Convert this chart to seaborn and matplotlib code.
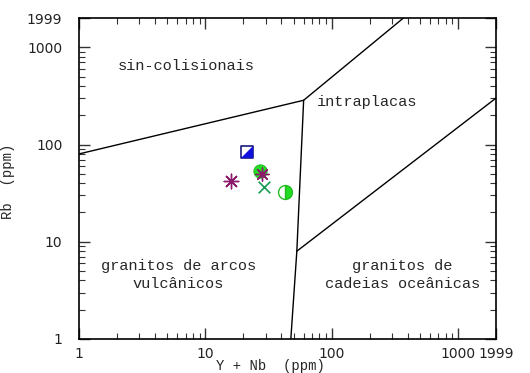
import matplotlib
matplotlib.use('Agg')
import matplotlib.pyplot as plt
import seaborn as sns
import pandas as pd
from matplotlib.ticker import LogLocator, NullFormatter, FixedLocator, FixedFormatter

# amostras (Y+Nb, Rb)
amostras = ['A1', 'A2', 'A3', 'A4', 'A5', 'A6']
y_nb = [21.4, 27.0, 28.0, 16.0, 29.2, 42.8]
rb = [84, 54, 50, 42, 36.5, 32.5]

# limites do diagrama
lim_a_x = [1, 60, 370]
lim_a_y = [80, 285, 1999]
lim_b_x = [60, 53, 47.5]
lim_b_y = [285, 8, 1]
lim_c_x = [53, 1999]
lim_c_y = [8, 300]

sns.set_style('ticks')
mono = ['Liberation Mono', 'DejaVu Sans Mono']

fig = plt.figure(figsize=(5.3, 3.73), dpi=100)
ax = fig.add_axes([79/530, 1-339/373, 417/530, 321/373])

ax.set_xscale('log')
ax.set_yscale('log')
ax.set_xlim(1, 1999)
ax.set_ylim(1, 1999)

ax.plot(lim_a_x, lim_a_y, color='black', lw=1)
ax.plot(lim_b_x, lim_b_y, color='black', lw=1)
ax.plot(lim_c_x, lim_c_y, color='black', lw=1)

df = pd.DataFrame({'amostra': amostras, 'x': y_nb, 'y': rb})

# quadrado meio preenchido
d = df.iloc[[0]]
sns.scatterplot(data=d, x='x', y='y', marker='s', s=70, color='white',
                edgecolor='#1a1a80', linewidth=1.2, ax=ax, zorder=3)
sns.scatterplot(data=d, x='x', y='y', marker=[(-1, -1), (1, -1), (1, 1)], s=70,
                color='#1010dd', edgecolor='none', ax=ax, zorder=4)
# circulo verde + asterisco
d = df.iloc[[1]]
sns.scatterplot(data=d, x='x', y='y', marker='o', s=90, color='#22dd22',
                edgecolor='#22bb22', ax=ax, zorder=3)
d = df.iloc[[2]]
sns.scatterplot(data=d, x='x', y='y', marker=(8, 2, 0), s=90, color='#8b1a6b',
                linewidth=1, ax=ax, zorder=4)
d = df.iloc[[3]]
sns.scatterplot(data=d, x='x', y='y', marker=(8, 2, 0), s=110, color='#8b1a6b',
                linewidth=1, ax=ax, zorder=4)
d = df.iloc[[4]]
sns.scatterplot(data=d, x='x', y='y', marker='x', s=70, color='#1a9a55',
                linewidth=1.2, ax=ax, zorder=4)
d = df.iloc[[5]]
ax.plot(d['x'], d['y'], marker='o', ms=10, fillstyle='right', color='#22dd22',
        markerfacecoloralt='white', markeredgecolor='#22bb22', ls='none', zorder=4)

ticks = [1, 10, 100, 1000, 1999]
labels = ['1', '10', '100', '1000', '1999']
for axis in (ax.xaxis, ax.yaxis):
    axis.set_major_locator(FixedLocator(ticks))
    axis.set_major_formatter(FixedFormatter(labels))
    axis.set_minor_locator(LogLocator(base=10, subs=range(2, 10)))
    axis.set_minor_formatter(NullFormatter())

ax.tick_params(which='both', direction='in', top=True, right=True, color='#333333')
ax.tick_params(which='major', length=8, width=1, labelsize=10, labelcolor='#222222')
ax.tick_params(which='minor', length=4.5, width=0.8)
ax.tick_params(axis='y', which='major', pad=12)
ax.tick_params(axis='x', which='major', pad=6)
for sp in ax.spines.values():
    sp.set_color('black')
    sp.set_linewidth(1.2)

ax.set_xlabel('Y + Nb  (ppm)', family=mono, fontsize=10)
ax.set_ylabel('Rb  (ppm)', family=mono, fontsize=10)
ax.xaxis.set_label_coords(0.46, -0.062)
ax.yaxis.set_label_coords(-0.153, 0.49)

txt = dict(family=mono, fontsize=11, ha='center', va='center', linespacing=1.3)
ax.text(7.0, 645, 'sin-colisionais', **txt)
ax.text(192, 274, 'intraplacas', **txt)
ax.text(6.1, 4.55, 'granitos de arcos\nvulcânicos', **txt)
ax.text(362, 4.55, 'granitos de\ncadeias oceânicas', **txt)

fig.savefig('out.png', dpi=100)
